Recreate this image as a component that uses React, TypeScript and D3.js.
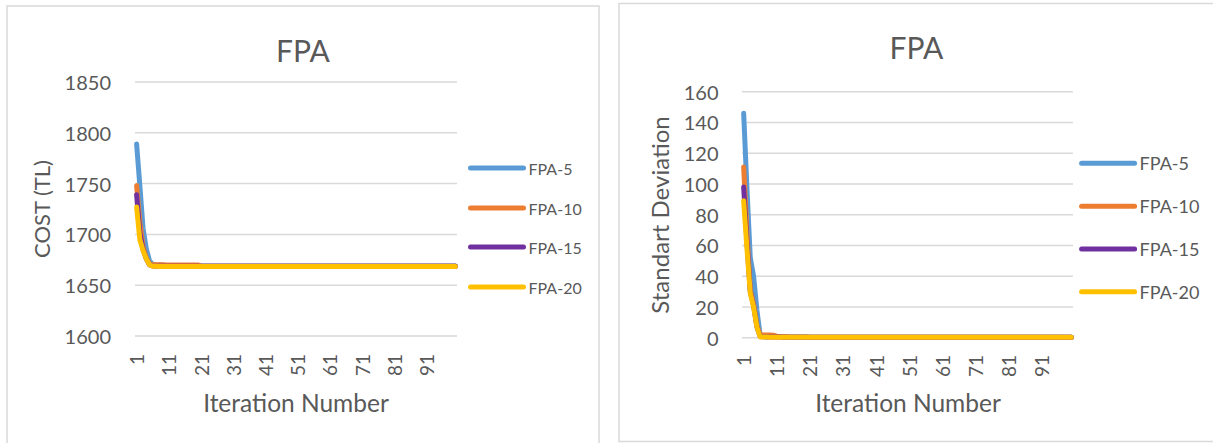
import React from "react";
import * as d3 from "d3";

// Iterations 1..100 on the category axis
const iterations: number[] = d3.range(1, 101);
const xTickLabels = ["1", "11", "21", "31", "41", "51", "61", "71", "81", "91"];

const seriesNames = ["FPA-5", "FPA-10", "FPA-15", "FPA-20"];
const seriesColors = ["#5B9BD5", "#ED7D31", "#7030A0", "#FFC000"];

const costTicks = [1600, 1650, 1700, 1750, 1800, 1850];
const sdTicks = [0, 20, 40, 60, 80, 100, 120, 140, 160];

// Best cost per iteration (TL)
const costFpa5 = [
  1789, 1748, 1706, 1686, 1674, 1670.5, 1670, 1670, 1669.8, 1669.6,
  1669.5, 1669.5, 1669.4, 1669.4, 1669.3, 1669.3, 1669.2, 1669.2, 1669.1, 1669.1,
  1669, 1669, 1669, 1669, 1669, 1669, 1669, 1669, 1669, 1669,
  1669, 1669, 1669, 1669, 1669, 1669, 1669, 1669, 1669, 1669,
  1669, 1669, 1669, 1669, 1669, 1669, 1669, 1669, 1669, 1669,
  1669, 1669, 1669, 1669, 1669, 1669, 1669, 1669, 1669, 1669,
  1669, 1669, 1669, 1669, 1669, 1669, 1669, 1669, 1669, 1669,
  1669, 1669, 1669, 1669, 1669, 1669, 1669, 1669, 1669, 1669,
  1669, 1669, 1669, 1669, 1669, 1669, 1669, 1669, 1669, 1669,
  1669, 1669, 1669, 1669, 1669, 1669, 1669, 1669, 1669, 1669,
];
const costFpa10 = [
  1748, 1712, 1688, 1677, 1671, 1670.2, 1670.2, 1670.1, 1670.1, 1670,
  1670, 1670, 1670, 1670, 1670, 1670, 1670, 1670, 1670, 1670,
  1668.8, 1668.7, 1668.6, 1668.6, 1668.6, 1668.6, 1668.6, 1668.6, 1668.6, 1668.6,
  1668.6, 1668.6, 1668.6, 1668.6, 1668.6, 1668.6, 1668.6, 1668.6, 1668.6, 1668.6,
  1668.6, 1668.6, 1668.6, 1668.6, 1668.6, 1668.6, 1668.6, 1668.6, 1668.6, 1668.6,
  1668.6, 1668.6, 1668.6, 1668.6, 1668.6, 1668.6, 1668.6, 1668.6, 1668.6, 1668.6,
  1668.6, 1668.6, 1668.6, 1668.6, 1668.6, 1668.6, 1668.6, 1668.6, 1668.6, 1668.6,
  1668.6, 1668.6, 1668.6, 1668.6, 1668.6, 1668.6, 1668.6, 1668.6, 1668.6, 1668.6,
  1668.6, 1668.6, 1668.6, 1668.6, 1668.6, 1668.6, 1668.6, 1668.6, 1668.6, 1668.6,
  1668.6, 1668.6, 1668.6, 1668.6, 1668.6, 1668.6, 1668.6, 1668.6, 1668.6, 1668.6,
];
const costFpa15 = [
  1739, 1702, 1685, 1676, 1670, 1668.9, 1668.7, 1668.6, 1668.6, 1668.6,
  1668.6, 1668.6, 1668.6, 1668.6, 1668.6, 1668.6, 1668.6, 1668.6, 1668.6, 1668.6,
  1668.6, 1668.6, 1668.6, 1668.6, 1668.6, 1668.6, 1668.6, 1668.6, 1668.6, 1668.6,
  1668.6, 1668.6, 1668.6, 1668.6, 1668.6, 1668.6, 1668.6, 1668.6, 1668.6, 1668.6,
  1668.6, 1668.6, 1668.6, 1668.6, 1668.6, 1668.6, 1668.6, 1668.6, 1668.6, 1668.6,
  1668.6, 1668.6, 1668.6, 1668.6, 1668.6, 1668.6, 1668.6, 1668.6, 1668.6, 1668.6,
  1668.6, 1668.6, 1668.6, 1668.6, 1668.6, 1668.6, 1668.6, 1668.6, 1668.6, 1668.6,
  1668.6, 1668.6, 1668.6, 1668.6, 1668.6, 1668.6, 1668.6, 1668.6, 1668.6, 1668.6,
  1668.6, 1668.6, 1668.6, 1668.6, 1668.6, 1668.6, 1668.6, 1668.6, 1668.6, 1668.6,
  1668.6, 1668.6, 1668.6, 1668.6, 1668.6, 1668.6, 1668.6, 1668.6, 1668.6, 1668.6,
];
const costFpa20 = [
  1727, 1695, 1684, 1676, 1670, 1668.7, 1668.6, 1668.5, 1668.5, 1668.5,
  1668.5, 1668.5, 1668.5, 1668.5, 1668.5, 1668.5, 1668.5, 1668.5, 1668.5, 1668.5,
  1668.5, 1668.5, 1668.5, 1668.5, 1668.5, 1668.5, 1668.5, 1668.5, 1668.5, 1668.5,
  1668.5, 1668.5, 1668.5, 1668.5, 1668.5, 1668.5, 1668.5, 1668.5, 1668.5, 1668.5,
  1668.5, 1668.5, 1668.5, 1668.5, 1668.5, 1668.5, 1668.5, 1668.5, 1668.5, 1668.5,
  1668.5, 1668.5, 1668.5, 1668.5, 1668.5, 1668.5, 1668.5, 1668.5, 1668.5, 1668.5,
  1668.5, 1668.5, 1668.5, 1668.5, 1668.5, 1668.5, 1668.5, 1668.5, 1668.5, 1668.5,
  1668.5, 1668.5, 1668.5, 1668.5, 1668.5, 1668.5, 1668.5, 1668.5, 1668.5, 1668.5,
  1668.5, 1668.5, 1668.5, 1668.5, 1668.5, 1668.5, 1668.5, 1668.5, 1668.5, 1668.5,
  1668.5, 1668.5, 1668.5, 1668.5, 1668.5, 1668.5, 1668.5, 1668.5, 1668.5, 1668.5,
];

// Standard deviation of the population per iteration
const sdFpa5 = [
  146, 97, 52, 40, 18, 1.3, 1.2, 1.1, 1.0, 0.9,
  0.8, 0.7, 0.6, 0.6, 0.5, 0.5, 0.5, 0.4, 0.4, 0.4,
  0.3, 0.3, 0.3, 0.3, 0.3, 0.3, 0.3, 0.3, 0.3, 0.3,
  0.3, 0.3, 0.3, 0.3, 0.3, 0.3, 0.3, 0.3, 0.3, 0.3,
  0.3, 0.3, 0.3, 0.3, 0.3, 0.3, 0.3, 0.3, 0.3, 0.3,
  0.3, 0.3, 0.3, 0.3, 0.3, 0.3, 0.3, 0.3, 0.3, 0.3,
  0.3, 0.3, 0.3, 0.3, 0.3, 0.3, 0.3, 0.3, 0.3, 0.3,
  0.3, 0.3, 0.3, 0.3, 0.3, 0.3, 0.3, 0.3, 0.3, 0.3,
  0.3, 0.3, 0.3, 0.3, 0.3, 0.3, 0.3, 0.3, 0.3, 0.3,
  0.3, 0.3, 0.3, 0.3, 0.3, 0.3, 0.3, 0.3, 0.3, 0.3,
];
const sdFpa10 = [
  111, 68, 31, 22, 8, 1.9, 1.8, 1.8, 1.7, 1.6,
  1.0, 0.8, 0.7, 0.6, 0.5, 0.5, 0.4, 0.4, 0.4, 0.4,
  0.3, 0.3, 0.3, 0.3, 0.3, 0.3, 0.3, 0.3, 0.3, 0.3,
  0.3, 0.3, 0.3, 0.3, 0.3, 0.3, 0.3, 0.3, 0.3, 0.3,
  0.3, 0.3, 0.3, 0.3, 0.3, 0.3, 0.3, 0.3, 0.3, 0.3,
  0.3, 0.3, 0.3, 0.3, 0.3, 0.3, 0.3, 0.3, 0.3, 0.3,
  0.3, 0.3, 0.3, 0.3, 0.3, 0.3, 0.3, 0.3, 0.3, 0.3,
  0.3, 0.3, 0.3, 0.3, 0.3, 0.3, 0.3, 0.3, 0.3, 0.3,
  0.3, 0.3, 0.3, 0.3, 0.3, 0.3, 0.3, 0.3, 0.3, 0.3,
  0.3, 0.3, 0.3, 0.3, 0.3, 0.3, 0.3, 0.3, 0.3, 0.3,
];
const sdFpa15 = [
  98, 62, 30, 21, 7, 0.8, 0.6, 0.5, 0.5, 0.4,
  0.4, 0.4, 0.3, 0.3, 0.3, 0.3, 0.3, 0.3, 0.3, 0.3,
  0.3, 0.3, 0.3, 0.3, 0.3, 0.3, 0.3, 0.3, 0.3, 0.3,
  0.3, 0.3, 0.3, 0.3, 0.3, 0.3, 0.3, 0.3, 0.3, 0.3,
  0.3, 0.3, 0.3, 0.3, 0.3, 0.3, 0.3, 0.3, 0.3, 0.3,
  0.3, 0.3, 0.3, 0.3, 0.3, 0.3, 0.3, 0.3, 0.3, 0.3,
  0.3, 0.3, 0.3, 0.3, 0.3, 0.3, 0.3, 0.3, 0.3, 0.3,
  0.3, 0.3, 0.3, 0.3, 0.3, 0.3, 0.3, 0.3, 0.3, 0.3,
  0.3, 0.3, 0.3, 0.3, 0.3, 0.3, 0.3, 0.3, 0.3, 0.3,
  0.3, 0.3, 0.3, 0.3, 0.3, 0.3, 0.3, 0.3, 0.3, 0.3,
];
const sdFpa20 = [
  89, 58, 29, 20, 7, 0.5, 0.4, 0.4, 0.3, 0.3,
  0.3, 0.3, 0.3, 0.3, 0.3, 0.3, 0.3, 0.3, 0.3, 0.3,
  0.3, 0.3, 0.3, 0.3, 0.3, 0.3, 0.3, 0.3, 0.3, 0.3,
  0.3, 0.3, 0.3, 0.3, 0.3, 0.3, 0.3, 0.3, 0.3, 0.3,
  0.3, 0.3, 0.3, 0.3, 0.3, 0.3, 0.3, 0.3, 0.3, 0.3,
  0.3, 0.3, 0.3, 0.3, 0.3, 0.3, 0.3, 0.3, 0.3, 0.3,
  0.3, 0.3, 0.3, 0.3, 0.3, 0.3, 0.3, 0.3, 0.3, 0.3,
  0.3, 0.3, 0.3, 0.3, 0.3, 0.3, 0.3, 0.3, 0.3, 0.3,
  0.3, 0.3, 0.3, 0.3, 0.3, 0.3, 0.3, 0.3, 0.3, 0.3,
  0.3, 0.3, 0.3, 0.3, 0.3, 0.3, 0.3, 0.3, 0.3, 0.3,
];

const FONT = "Lato, 'Open Sans', 'Liberation Sans', sans-serif";
const TEXT = "#595959";
const GRID = "#d9d9d9";

type PanelProps = {
  frame: { x: number; y: number; w: number; h: number };
  plot: { left: number; right: number; top: number; bottom: number };
  series: number[][];
  yTicks: number[];
  title: string;
  titlePos: [number, number];
  yTitle: string;
  yTitlePos: [number, number];
  yTitleFont: number;
  xTitlePos: [number, number];
  yLabelX: number;
  xLabelY: number;
  legendX: number;
  legendY: number[];
  legendFont: number;
};

function Panel(p: PanelProps) {
  const x = d3
    .scalePoint<number>()
    .domain(iterations)
    .range([p.plot.left, p.plot.right])
    .padding(0.5);
  const y = d3
    .scaleLinear()
    .domain([p.yTicks[0], p.yTicks[p.yTicks.length - 1]])
    .range([p.plot.bottom, p.plot.top]);
  const line = d3
    .line<number>()
    .x((_, i) => x(iterations[i]) as number)
    .y((d) => y(d));

  return (
    <g>
      <rect
        x={p.frame.x}
        y={p.frame.y}
        width={p.frame.w}
        height={p.frame.h}
        fill="#fff"
        stroke={GRID}
        strokeWidth={1.5}
      />
      <text
        x={p.titlePos[0]}
        y={p.titlePos[1]}
        textAnchor="middle"
        dominantBaseline="central"
        fontSize={30}
        fill={TEXT}
      >
        {p.title}
      </text>

      {p.yTicks.map((t) => (
        <g key={t}>
          <line
            x1={p.plot.left}
            x2={p.plot.right}
            y1={y(t)}
            y2={y(t)}
            stroke={GRID}
            strokeWidth={1.5}
          />
          <text
            x={p.yLabelX}
            y={y(t)}
            textAnchor="end"
            dominantBaseline="central"
            fontSize={20}
            fill={TEXT}
          >
            {t}
          </text>
        </g>
      ))}

      {xTickLabels.map((lab) => (
        <text
          key={lab}
          transform={`translate(${x(+lab)},${p.xLabelY}) rotate(-90)`}
          textAnchor="end"
          dominantBaseline="central"
          fontSize={19}
          fill={TEXT}
        >
          {lab}
        </text>
      ))}

      <text
        transform={`translate(${p.yTitlePos[0]},${p.yTitlePos[1]}) rotate(-90)`}
        textAnchor="middle"
        dominantBaseline="central"
        fontSize={p.yTitleFont}
        fill={TEXT}
      >
        {p.yTitle}
      </text>
      <text
        x={p.xTitlePos[0]}
        y={p.xTitlePos[1]}
        textAnchor="middle"
        dominantBaseline="central"
        fontSize={24.5}
        fill={TEXT}
      >
        Iteration Number
      </text>

      {p.series.map((s, i) => (
        <path
          key={seriesNames[i]}
          d={line(s) || ""}
          fill="none"
          stroke={seriesColors[i]}
          strokeWidth={5}
          strokeLinejoin="round"
          strokeLinecap="round"
        />
      ))}

      {seriesNames.map((name, i) => (
        <g key={name}>
          <line
            x1={p.legendX}
            x2={p.legendX + 53}
            y1={p.legendY[i]}
            y2={p.legendY[i]}
            stroke={seriesColors[i]}
            strokeWidth={5}
            strokeLinecap="round"
          />
          <text
            x={p.legendX + 58}
            y={p.legendY[i]}
            dominantBaseline="central"
            fontSize={p.legendFont}
            fill={TEXT}
          >
            {name}
          </text>
        </g>
      ))}
    </g>
  );
}

export default function App() {
  return (
    <svg
      width={1213}
      height={443}
      style={{ position: "absolute", left: 0, top: 0, fontFamily: FONT, background: "#fff" }}
    >
      <rect x={0} y={0} width={1213} height={443} fill="#fff" />
      <Panel
        frame={{ x: 7, y: 6, w: 592, h: 450 }}
        plot={{ left: 135, right: 457, top: 82, bottom: 336 }}
        series={[costFpa5, costFpa10, costFpa15, costFpa20]}
        yTicks={costTicks}
        title="FPA"
        titlePos={[303, 50]}
        yTitle="COST (TL)"
        yTitlePos={[41.5, 209]}
        yTitleFont={22}
        xTitlePos={[296, 402]}
        yLabelX={111}
        xLabelY={354}
        legendX={470.5}
        legendY={[168, 208, 247, 287]}
        legendFont={16}
      />
      <Panel
        frame={{ x: 619, y: 3.5, w: 610, h: 438 }}
        plot={{ left: 742, right: 1073, top: 91.7, bottom: 337.7 }}
        series={[sdFpa5, sdFpa10, sdFpa15, sdFpa20]}
        yTicks={sdTicks}
        title="FPA"
        titlePos={[916.5, 46.5]}
        yTitle="Standart Deviation"
        yTitlePos={[659.4, 215]}
        yTitleFont={24}
        xTitlePos={[908, 402]}
        yLabelX={718.5}
        xLabelY={355}
        legendX={1081.6}
        legendY={[163.3, 206.3, 249, 291.7]}
        legendFont={18}
      />
    </svg>
  );
}
